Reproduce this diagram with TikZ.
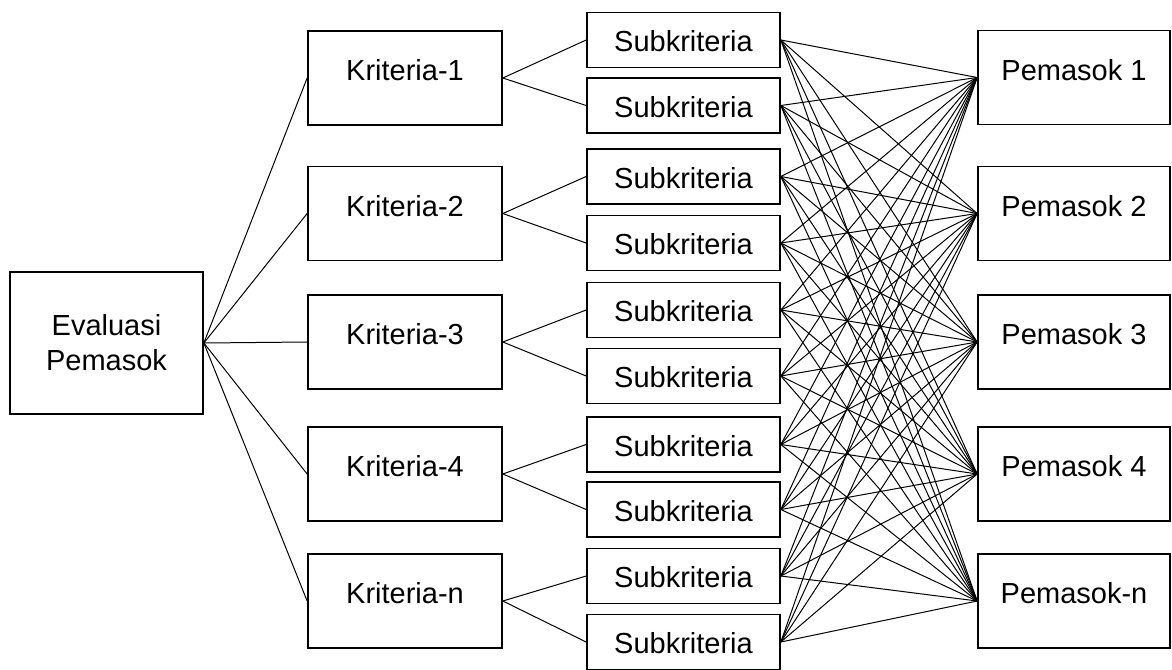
\documentclass[tikz,border=0pt]{standalone}
\usepackage{fontspec}
\setmainfont{Liberation Sans}
\begin{document}
\begin{tikzpicture}[x=0.5pt,y=-0.5pt,
  box/.style={draw=black,line width=0.85pt,rectangle,inner sep=0pt,fill=white},
  ebox/.style={box,minimum width=96.5pt,minimum height=71pt,align=center,font=\fontsize{14.5}{17.5}\selectfont},
  kbox/.style={box,minimum width=97pt,minimum height=47pt},
  sbox/.style={box,minimum width=96.5pt,minimum height=27.5pt},
  pbox/.style={box,minimum width=96pt,minimum height=47pt},
  txt/.style={font=\fontsize{14.5}{17}\selectfont,inner sep=0pt},
  conn/.style={line width=0.5pt,black}]
\useasboundingbox (0,0) rectangle (1172,669);
% root
\node[ebox] (e) at (106.5,343) {Evaluasi\\Pemasok};
% kriteria
\foreach \n/\y/\t in {1/78/Kriteria-1,2/213.5/Kriteria-2,3/342/Kriteria-3,4/474/Kriteria-4,5/601/Kriteria-n}
  \node[kbox,label={[txt,yshift=3.8pt]center:\t}] (k\n) at (405,\y) {};
% subkriteria
\foreach \n/\y in {1/40,2/105.5,3/176.5,4/243,5/310,6/376,7/444.5,8/509.5,9/576,10/642}
  \node[sbox,label={[txt,yshift=-0.8pt]center:Subkriteria}] (s\n) at (683.5,\y) {};
% pemasok
\foreach \n/\y/\t in {1/77.5/Pemasok 1,2/213.5/Pemasok 2,3/342/Pemasok 3,4/474/Pemasok 4,5/601/Pemasok-n}
  \node[pbox,label={[txt,yshift=3.8pt]center:\t}] (p\n) at (1074,\y) {};
% connectors
\foreach \n in {1,...,5}
  \draw[conn] (e.east) -- (k\n.west);
\foreach \n/\a/\b in {1/1/2,2/3/4,3/5/6,4/7/8,5/9/10}{
  \draw[conn] (k\n.east) -- (s\a.west);
  \draw[conn] (k\n.east) -- (s\b.west);
}
\foreach \s in {1,...,10}
  \foreach \p in {1,...,5}
    \draw[conn] (s\s.east) -- (p\p.west);
\end{tikzpicture}
\end{document}
